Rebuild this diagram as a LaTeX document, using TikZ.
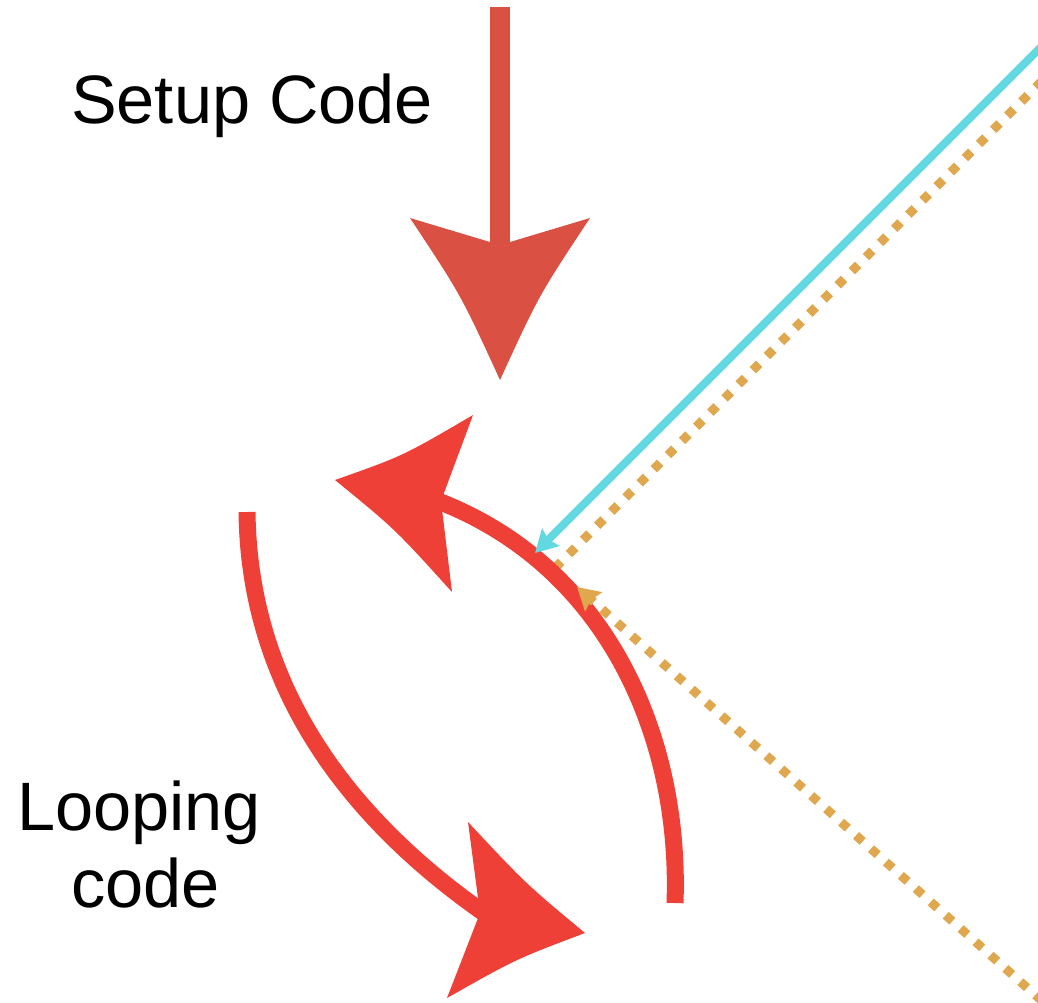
\documentclass[tikz,border=0pt]{standalone}
\usepackage{fontspec}
\setmainfont{Liberation Sans}
\usetikzlibrary{arrows.meta}
\definecolor{setupred}{RGB}{218,80,66}
\definecolor{loopred}{RGB}{238,64,54}
\definecolor{callcyan}{RGB}{98,216,224}
\definecolor{calloran}{RGB}{224,168,78}
\tikzset{
  label text/.style={font=\fontsize{68.5}{80}\selectfont, inner sep=0pt, anchor=base west},
  setup shaft/.style={draw=setupred, line width=20pt, line cap=butt},
  loop shaft/.style={draw=loopred, line width=17pt, line cap=butt},
  cyan link/.style={draw=callcyan, line width=8pt, line cap=butt,
    -{Stealth[length=22pt,width=24pt,inset=3pt,fill=callcyan]}},
  dotted link/.style={draw=calloran, line width=9pt, line cap=butt,
    dash pattern=on 9pt off 11pt},
  orange tip/.style={-{Stealth[length=22pt,width=25pt,inset=3pt,fill=calloran]}},
}
\begin{document}
\begin{tikzpicture}[x=1pt,y=-1pt]
\useasboundingbox (0,0) rectangle (1038,1002);
\clip (0,0) rectangle (1038,1002);
\fill[white] (0,0) rectangle (1038,1002);

% anchor points
\coordinate (setupTop)   at (500,7);
\coordinate (setupNeck)  at (500,250);
\coordinate (upStart)    at (675,903);
\coordinate (upEnd)      at (438,501);
\coordinate (downStart)  at (247,512);
\coordinate (downEnd)    at (484,913);
\coordinate (cyanFrom)   at (1042,46);
\coordinate (cyanTip)    at (535,553);
\coordinate (oranAFrom)  at (1042,81);
\coordinate (oranAEnd)   at (557,566);
\coordinate (oranBFrom)  at (1042,1001);
\coordinate (oranBTip)   at (577,587);

% dotted link that runs into the loop
\draw[dotted link] (oranAFrom) -- (oranAEnd);

% loop: upward arc and its head
\draw[loop shaft] (upStart) .. controls (681,735) and (606,566) .. (upEnd);
\fill[loopred] (335,480) .. controls (403,456) .. (473,415) -- (441,501)
  -- (452,592) .. controls (395,529) .. (335,480) -- cycle;

% loop: downward arc and its head
\draw[loop shaft] (downStart) .. controls (249,680) and (340,812) .. (downEnd);
\fill[loopred] (585,933) .. controls (526,884) .. (468,822) -- (480,913)
  -- (447,998) .. controls (516,959) .. (585,933) -- cycle;

% incoming links
\draw[cyan link] (cyanFrom) -- (cyanTip);
\draw[dotted link, orange tip] (oranBFrom) -- (oranBTip);

% setup arrow
\draw[setup shaft] (setupTop) -- (setupNeck);
\fill[setupred] (500,380) .. controls (461,295) .. (410,218) -- (500,245)
  -- (590,218) .. controls (539,295) .. (500,380) -- cycle;

% labels
\node[label text] (setup)   at (71,123) {Setup Code};
\node[label text] (looping) at (17,830) {Looping};
\node[label text] (code)    at (71,907) {code};
\end{tikzpicture}
\end{document}
